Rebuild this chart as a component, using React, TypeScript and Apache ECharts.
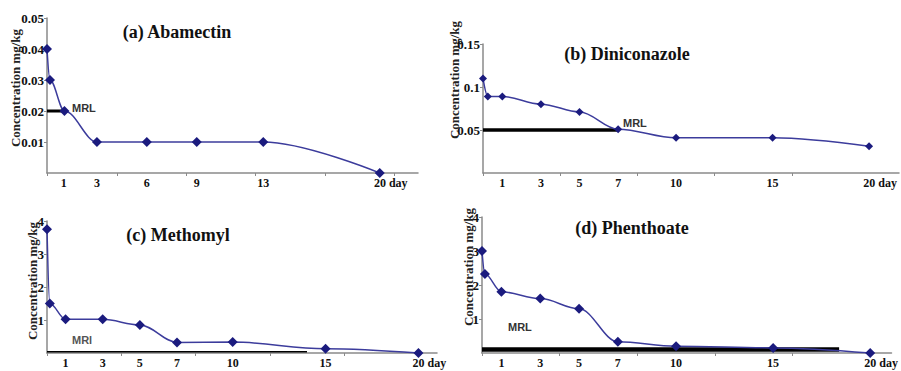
import React, { useEffect, useRef } from "react";
import * as echarts from "echarts";

// (a) Abamectin
const daysA = [0, 0.18, 1.05, 3, 6, 9, 13, 20];
const concA = [0.04, 0.03, 0.02, 0.01, 0.01, 0.01, 0.01, 0];
const mrlDaysA = [0, 1.05];
const mrlA = 0.02;
const xLabelsA = [1, 3, 6, 9, 13, 20];
const xTicksA = [0, 4.2, 8.4, 12.5, 16.7, 20.9];

// (b) Diniconazole
const daysB = [0, 0.25, 1, 3, 5, 7, 10, 15, 20];
const concB = [0.11, 0.089, 0.089, 0.08, 0.071, 0.051, 0.041, 0.041, 0.031];
const mrlDaysB = [0, 7];
const mrlB = 0.05;

// (c) Methomyl
const daysC = [0, 0.15, 1, 3, 5, 7, 10, 15, 20];
const concC = [3.75, 1.5, 1.02, 1.02, 0.85, 0.32, 0.33, 0.13, 0];
const mrlDaysC = [0, 14];
const mrlC = 0.04;

// (d) Phenthoate
const daysD = [0, 0.15, 1, 3, 5, 7, 10, 15, 20];
const concD = [3.0, 2.32, 1.8, 1.6, 1.3, 0.33, 0.2, 0.15, 0];
const mrlDaysD = [0, 18.4];
const mrlD = 0.1;

const xLabelsBCD = [1, 3, 5, 7, 10, 15, 20];
const xTicksBCD = [0, 4, 8, 12, 16];

const titles = ["(a) Abamectin", "(b) Diniconazole", "(c) Methomyl", "(d) Phenthoate"];
const yName = "Concentration mg/kg";
const mrlTexts = ["MRL", "MRL", "MRl", "MRL"];

const SERIF = "'Liberation Serif', 'DejaVu Serif', serif";
const SANS = "'Liberation Sans', Arial, sans-serif";
const AXIS = "#8a8a8a";
const LINE = "#3c3c9c";
const MARK = "#1b1b7e";

export default function App() {
  const ref = useRef<HTMLDivElement>(null);
  useEffect(() => {
    if (!ref.current) return;
    const chart = echarts.init(ref.current, null, { renderer: "svg" });

    const grids = [
      { left: 47, top: 18, width: 371, height: 155 },
      { left: 483, top: 44, width: 416, height: 129 },
      { left: 47, top: 221, width: 390, height: 132 },
      { left: 482, top: 217, width: 418, height: 136 },
    ];
    const xMax = [22.3, 21.55, 21.0, 21.1];
    const yMax = [0.05, 0.15, 4, 4];
    const yInt = [0.01, 0.05, 1, 1];
    const xLab = [xLabelsA, xLabelsBCD, xLabelsBCD, xLabelsBCD];
    const xTk = [xTicksA, xTicksBCD, xTicksBCD, xTicksBCD];
    const days = [daysA, daysB, daysC, daysD];
    const conc = [concA, concB, concC, concD];
    const mrlDays = [mrlDaysA, mrlDaysB, mrlDaysC, mrlDaysD];
    const mrlVals = [mrlA, mrlB, mrlC, mrlD];
    const mrlWidth = [3, 3.5, 1.5, 4.5];
    const symSize = [10, 8, 10, 10];

    const xAxis = grids.map((_, i) => ({
      type: "value",
      gridIndex: i,
      min: 0,
      max: xMax[i],
      splitLine: { show: false },
      axisLine: { lineStyle: { color: AXIS, width: 1.5 } },
      axisTick: { show: true, customValues: xTk[i], length: 3, lineStyle: { color: AXIS } },
      axisLabel: {
        customValues: xLab[i],
        margin: 4,
        fontFamily: SERIF,
        fontWeight: "bold",
        fontSize: 12,
        color: "#111",
        formatter: (v: number) => (v === 20 ? "{l|20 day}" : String(v)),
        rich: {
          l: { padding: [0, 0, 0, 22], fontFamily: SERIF, fontWeight: "bold", fontSize: 12, color: "#111" },
        },
      },
    }));
    const yAxis = grids.map((_, i) => ({
      type: "value",
      gridIndex: i,
      min: 0,
      max: yMax[i],
      interval: yInt[i],
      splitLine: { show: false },
      axisLine: { show: true, lineStyle: { color: AXIS, width: 1.5 } },
      axisTick: { show: true, length: 3, lineStyle: { color: AXIS } },
      axisLabel: {
        showMinLabel: false,
        margin: 3,
        fontFamily: SERIF,
        fontWeight: "bold",
        fontSize: 13,
        color: "#111",
      },
    }));

    const series: any[] = [];
    grids.forEach((_, i) => {
      series.push({
        type: "line",
        xAxisIndex: i,
        yAxisIndex: i,
        data: mrlDays[i].map((d) => [d, mrlVals[i]]),
        symbol: "none",
        lineStyle: { color: "#000", width: mrlWidth[i] },
        z: 2,
      });
      series.push({
        type: "line",
        xAxisIndex: i,
        yAxisIndex: i,
        data: days[i].map((d, k) => [d, conc[i][k]]),
        smooth: 0.35,
        smoothMonotone: "x",
        symbol: "diamond",
        symbolSize: symSize[i],
        lineStyle: { color: LINE, width: 1.5 },
        itemStyle: { color: MARK },
        z: 3,
      });
    });

    const titlePos = [[177, 32], [627, 54], [178, 235], [632, 228]];
    const yNamePos = [[15, 88], [454, 80], [32, 281], [468, 267]];
    const mrlPos = [[72, 108], [623, 123], [72, 340], [508, 327]];

    const graphic: any[] = [];
    titles.forEach((t, i) => {
      graphic.push({
        type: "text",
        x: titlePos[i][0],
        y: titlePos[i][1],
        style: {
          text: t,
          fontFamily: SERIF,
          fontWeight: "bold",
          fontSize: 18,
          fill: "#111",
          align: "center",
          verticalAlign: "middle",
        },
      });
      graphic.push({
        type: "text",
        x: yNamePos[i][0],
        y: yNamePos[i][1],
        rotation: Math.PI / 2,
        style: {
          text: yName,
          fontFamily: SERIF,
          fontWeight: "bold",
          fontSize: 13,
          fill: "#222",
          align: "center",
          verticalAlign: "middle",
        },
      });
      graphic.push({
        type: "text",
        x: mrlPos[i][0],
        y: mrlPos[i][1],
        style: {
          text: mrlTexts[i],
          fontFamily: SANS,
          fontWeight: "bold",
          fontSize: 11,
          fill: i === 2 ? "#555" : "#333",
          align: "left",
          verticalAlign: "middle",
        },
      });
    });

    chart.setOption({
      animation: false,
      backgroundColor: "#fff",
      grid: grids,
      xAxis,
      yAxis,
      series,
      graphic,
    });
    return () => chart.dispose();
  }, []);

  return <div ref={ref} style={{ position: "fixed", left: 0, top: 0, width: 901, height: 371 }} />;
}
